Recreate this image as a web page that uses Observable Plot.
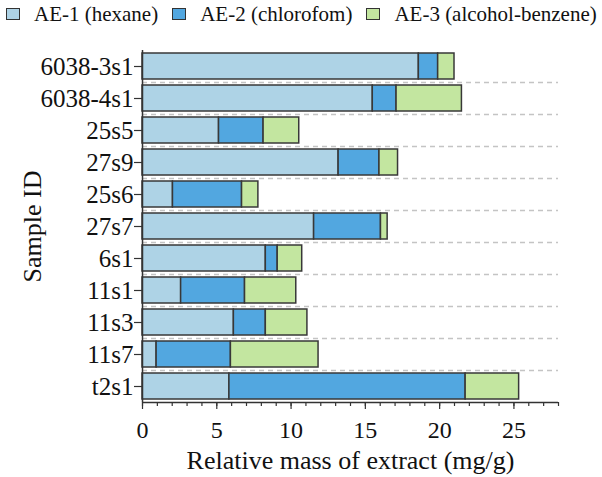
<!DOCTYPE html>
<html>
<head>
<meta charset="utf-8">
<script src="https://cdn.jsdelivr.net/npm/d3@7"></script>
<script src="https://cdn.jsdelivr.net/npm/@observablehq/plot@0.6"></script>
<style>
  html, body { margin: 0; padding: 0; background: #fff; }
  body { width: 602px; height: 477px; overflow: hidden; font-family: 'Liberation Serif', 'Times New Roman', serif; }
  #legend { height: 28px; line-height: 28px; font-size: 21px; white-space: nowrap; padding-left: 6px; color: #111; font-family: 'Liberation Serif', 'Times New Roman', serif; }
  .item { display: inline-block; margin-right: 14px; }
  .sw { display: inline-block; width: 12px; height: 10px; border: 1px solid #333; margin-right: 14px; vertical-align: 1px; }
  svg { display: block; }
</style>
</head>
<body>
<div id="legend"></div>
<div id="chart"></div>
<script>
const ids = ["6038-3s1","6038-4s1","25s5","27s9","25s6","27s7","6s1","11s1","11s3","11s7","t2s1"];
const seriesNames = ["AE-1 (hexane)", "AE-2 (chlorofom)", "AE-3 (alcohol-benzene)"];
const ae1 = [18.6, 15.5, 5.15, 13.2, 2.05, 11.55, 8.3, 2.6, 6.15, 0.95, 5.85];
const ae2 = [1.3, 1.6, 3.0, 2.75, 4.65, 4.5, 0.8, 4.3, 2.15, 5.0, 15.9];
const ae3 = [1.1, 4.4, 2.4, 1.25, 1.1, 0.45, 1.65, 3.45, 2.8, 5.9, 3.6];
const xTicks = [0, 5, 10, 15, 20, 25];
const xMinorTicks = d3.range(0, 29);
const colors = ["#aed3e6", "#52a7e0", "#c3e6a0"];
const xTitle = "Relative mass of extract (mg/g)";
const yTitle = "Sample ID";

const seriesValues = [ae1, ae2, ae3];
const data = [];
ids.forEach((id, i) => {
  seriesNames.forEach((s, j) => data.push({id, series: s, value: seriesValues[j][i]}));
});

// legend
const legend = document.getElementById("legend");
seriesNames.forEach((s, j) => {
  const item = document.createElement("span");
  item.className = "item";
  const sw = document.createElement("span");
  sw.className = "sw";
  sw.style.background = colors[j];
  item.appendChild(sw);
  item.appendChild(document.createTextNode(s));
  legend.appendChild(item);
});

const W = 602, H = 449, mt = 22, mb = 75, ml = 142, mr = 44;
const pIn = 0.2, pOut = 0.1;
const step = (H - mt - mb) / (ids.length - pIn + 2 * pOut);
const half = step / 2;
const font = "'Liberation Serif', 'Times New Roman', serif";

const chart = Plot.plot({
  width: W, height: H,
  marginTop: mt, marginBottom: mb, marginLeft: ml, marginRight: mr,
  style: {fontFamily: font, color: "#111", background: "#fff"},
  x: {domain: [0, 28]},
  y: {domain: ids, paddingInner: pIn, paddingOuter: pOut},
  color: {domain: seriesNames, range: colors},
  marks: [
    Plot.ruleY(ids.slice(1), {y: d => d, dy: -half, stroke: "#c4c4c4", strokeWidth: 1.5, strokeDasharray: "5,4"}),
    Plot.barX(data, Plot.stackX({x: "value", y: "id", fill: "series", stroke: "#383838", strokeWidth: 1.5, order: null})),
    Plot.ruleX([0], {stroke: "#333", strokeWidth: 1.5}),
    Plot.ruleY([ids[ids.length - 1]], {dy: half, stroke: "#333", strokeWidth: 1.5}),
    Plot.axisY({tickSize: 8, tickPadding: 1, fontSize: 25, label: null, stroke: "#333", strokeWidth: 1.2}),
    Plot.axisX({ticks: xTicks, tickSize: 7, tickPadding: 11, fontSize: 24, label: null, stroke: "#333", strokeWidth: 1.2}),
    Plot.axisX({ticks: xMinorTicks, tickSize: 4, text: null, label: null, stroke: "#333", strokeWidth: 1.2}),
    Plot.text([xTitle], {text: d => d, frameAnchor: "bottom", textAnchor: "middle", dy: 66, lineAnchor: "bottom", fontSize: 26, fill: "#111"}),
    Plot.text([yTitle], {text: d => d, frameAnchor: "left", textAnchor: "middle", dx: -102, rotate: -90, lineAnchor: "bottom", fontSize: 26, fill: "#111"})
  ]
});
document.getElementById("chart").appendChild(chart);
</script>
</body>
</html>
